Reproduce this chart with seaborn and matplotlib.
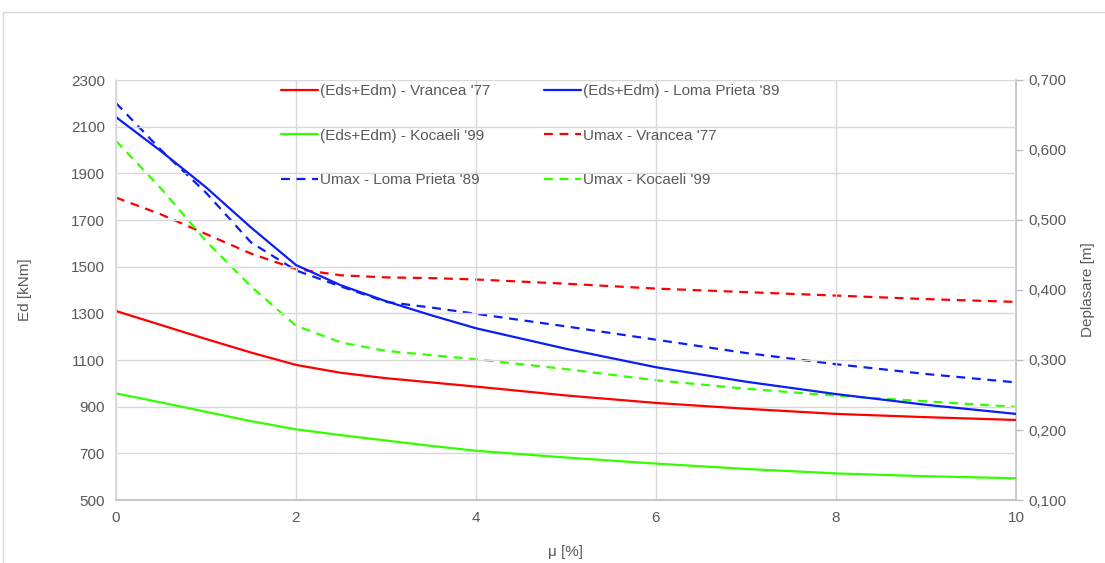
import numpy as np
import matplotlib
matplotlib.use("Agg")
import matplotlib.pyplot as plt
import matplotlib.patches as mpatches
from matplotlib.ticker import FuncFormatter, MultipleLocator
import seaborn as sns

# coeficient de amortizare mu [%]
mu = [0, 0.5, 1, 1.5, 2, 2.5, 3, 3.5, 4, 5, 6, 7, 8, 9, 10]

# energie disipata Eds+Edm [kNm]
ed_vrancea = [1310, 1250, 1190, 1132, 1079, 1045, 1022, 1004, 986, 948, 916, 891, 869, 855, 843]
ed_loma = [2141, 1995, 1840, 1668, 1507, 1420, 1352, 1292, 1236, 1148, 1069, 1007, 954, 908, 869]
ed_kocaeli = [957, 918, 878, 838, 803, 778, 755, 732, 711, 682, 656, 633, 614, 602, 593]

# deplasare maxima Umax [m]
u_vrancea = [0.532, 0.508, 0.480, 0.452, 0.430, 0.421, 0.418, 0.417, 0.415, 0.409, 0.402, 0.397, 0.392, 0.387, 0.383]
u_loma = [0.667, 0.600, 0.539, 0.468, 0.428, 0.405, 0.383, 0.375, 0.366, 0.348, 0.329, 0.310, 0.294, 0.280, 0.268]
u_kocaeli = [0.613, 0.545, 0.470, 0.405, 0.349, 0.325, 0.313, 0.307, 0.301, 0.287, 0.271, 0.259, 0.249, 0.241, 0.233]

ed_ticks = list(range(500, 2301, 200))

RED = "#ff0000"
BLUE = "#0a1ef5"
GREEN = "#33ff00"
GRAY = "#595959"
GRID = "#d9d9d9"

sns.set_theme(style="white")
plt.rcParams["font.family"] = ["Liberation Sans Narrow", "Liberation Sans", "DejaVu Sans"]

fig = plt.figure(figsize=(11.05, 5.63), dpi=100)
ax = fig.add_axes([116 / 1105, 63 / 563, 900 / 1105, 420 / 563])
ax2 = ax.twinx()

lw = 1.6
sns.lineplot(x=mu, y=ed_vrancea, ax=ax, color=RED, lw=lw, label="(Eds+Edm) - Vrancea '77", legend=False)
sns.lineplot(x=mu, y=ed_loma, ax=ax, color=BLUE, lw=lw, label="(Eds+Edm) - Loma Prieta '89", legend=False)
sns.lineplot(x=mu, y=ed_kocaeli, ax=ax, color=GREEN, lw=lw, label="(Eds+Edm) - Kocaeli '99", legend=False)
sns.lineplot(x=mu, y=u_vrancea, ax=ax2, color=RED, lw=lw, label="Umax - Vrancea '77", legend=False)
sns.lineplot(x=mu, y=u_loma, ax=ax2, color=BLUE, lw=lw, label="Umax - Loma Prieta '89", legend=False)
sns.lineplot(x=mu, y=u_kocaeli, ax=ax2, color=GREEN, lw=lw, label="Umax - Kocaeli '99", legend=False)
for ln in ax2.get_lines():
    ln.set_dashes((4, 3))

ax.set_xlim(0, 10)
ax.set_ylim(500, 2300)
ax2.set_ylim(0.1, 0.7)
ax.xaxis.set_major_locator(MultipleLocator(2))
ax.set_yticks(ed_ticks)
ax2.yaxis.set_major_locator(MultipleLocator(0.1))
ax2.yaxis.set_major_formatter(FuncFormatter(lambda v, p: f"{v:.3f}".replace(".", ",")))

ax.grid(True, color=GRID, lw=1)
ax2.grid(False)
ax.set_axisbelow(True)

for a in (ax, ax2):
    for s in a.spines.values():
        s.set_visible(False)
ax.spines["left"].set_visible(True)
ax.spines["left"].set_color(GRID)
ax.spines["bottom"].set_visible(True)
ax.spines["bottom"].set_color("#bfbfbf")
ax2.spines["right"].set_visible(True)
ax2.spines["right"].set_color("#bfbfbf")
ax2.spines["right"].set_linewidth(1.2)

ax.tick_params(axis="both", length=0, labelsize=11, labelcolor=GRAY, pad=8)
ax2.tick_params(axis="y", right=True, length=5, width=1, color="#bfbfbf", labelsize=11, labelcolor=GRAY, pad=4)

ax.set_xlabel("μ [%]", fontsize=11, color=GRAY, labelpad=14)
ax.set_ylabel("Ed [kNm]", fontsize=11, color=GRAY, labelpad=28)
ax2.set_ylabel("Deplasare [m]", fontsize=11, color=GRAY, labelpad=10)

# legenda: 3 randuri x 2 coloane, ordine pe randuri
h1, l1 = ax.get_legend_handles_labels()
h2, l2 = ax2.get_legend_handles_labels()
hs = h1 + h2
ls = l1 + l2
order = [0, 2, 4, 1, 3, 5]
leg = ax.legend([hs[i] for i in order], [ls[i] for i in order], ncol=2,
                loc="upper left", bbox_to_anchor=(0.173, 1.012), frameon=False,
                fontsize=11, labelcolor=GRAY, handlelength=2.45, handletextpad=0.1,
                labelspacing=2.0, columnspacing=3.5, borderaxespad=0.2)
ax.set_zorder(ax2.get_zorder() + 1)
ax.patch.set_visible(False)

# chenarul graficului
fig.patches.append(mpatches.Rectangle((3 / 1105, -0.05), 1.2, (563 - 12) / 563 + 0.05,
                                      transform=fig.transFigure, fill=False,
                                      edgecolor="#d9d9d9", lw=1))

fig.savefig("out.png", dpi=100)
